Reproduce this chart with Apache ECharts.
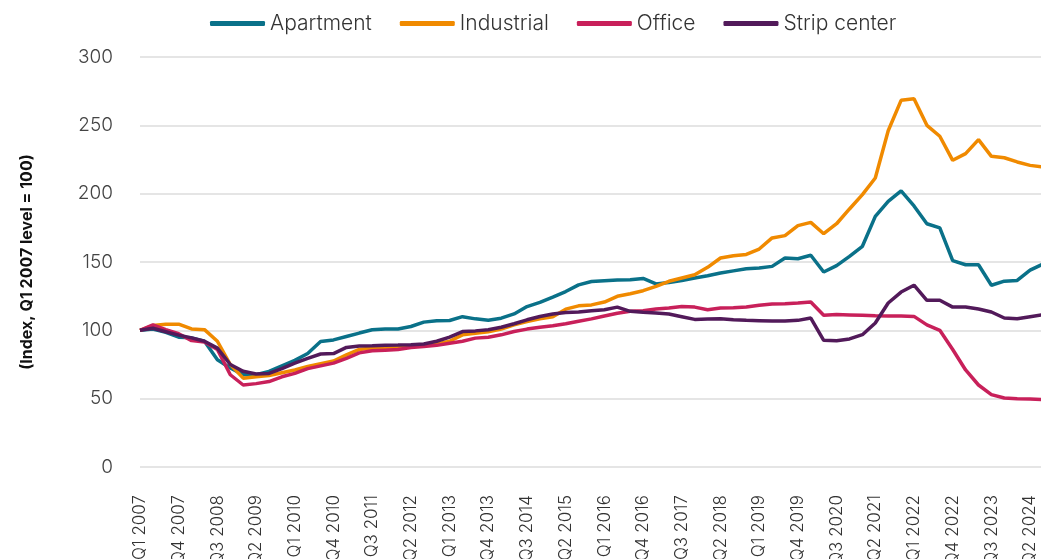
<!DOCTYPE html>
<html>
<head>
<meta charset="utf-8">
<script src="https://cdn.jsdelivr.net/npm/echarts@6/dist/echarts.min.js"></script>
<style>
  html, body { margin: 0; padding: 0; background: #fff; }
  #chart { width: 1041px; height: 559px; }
</style>
</head>
<body>
<div id="chart"></div>
<script>
const seriesNames = ["Apartment", "Industrial", "Office", "Strip center"];
const colors = ["#0a7189", "#f08a00", "#c8205a", "#521a5a"];

// quarterly, Q1 2007 .. Q3 2024
const quarters = [];
for (let y = 2007; y <= 2024; y++) {
  for (let q = 1; q <= 4; q++) {
    if (y === 2024 && q > 3) break;
    quarters.push("Q" + q + " " + y);
  }
}

const apartment = [
  100, 101, 98.5, 95, 94.5, 92, 78.5, 72.5, 67.5, 67.5,
  70, 74, 78, 83, 91.8, 93, 95.5, 98, 100.4, 101,
  101, 102.8, 106, 107, 107.2, 110, 108.4, 107.4, 108.9, 112,
  117.4, 120.4, 124.3, 128.4, 133.3, 135.7, 136.3, 136.8, 137, 138,
  134, 135, 136.5, 138.3, 140, 142, 143.5, 145, 145.6, 146.8,
  152.9, 152.4, 154.9, 142.7, 147.3, 154.1, 161.5, 183.4, 194.4, 202,
  191, 178, 175, 151, 148, 148, 133, 136, 136.5, 144,
  148.5
];
const industrial = [
  100, 103.5, 104.5, 104.5, 101, 100.5, 92, 75, 65, 66,
  67, 69, 71, 73.5, 75.5, 77.5, 82, 86, 87, 87.4,
  87.5, 88.2, 88.7, 90, 92, 96.7, 97.9, 99, 101, 104,
  106.5, 108.5, 110, 115.5, 117.9, 118.6, 120.7, 124.9, 126.8, 129,
  132.2, 135.9, 138.3, 140.7, 146.1, 152.9, 154.5, 155.5, 159.5, 167.6,
  169.3, 176.6, 179, 170.7, 178, 188.8, 199.3, 211.5, 246, 268.3,
  269.5, 250, 242, 224.4, 229.3, 239.5, 227.3, 226.3, 223.2, 220.7,
  219.5
];
const office = [
  100, 104, 100.5, 97.5, 92.5, 91.5, 86, 67.5, 60, 61,
  62.5, 66, 68.5, 72, 74, 76, 79.5, 83.5, 85, 85.5,
  86, 87.4, 88.2, 89, 90.5, 92, 94.3, 95, 96.7, 99.1,
  100.9, 102.3, 103.3, 104.8, 106.7, 108.4, 110.5, 112.5, 113.9, 114.4,
  115.6, 116.3, 117.5, 117, 115.1, 116.3, 116.5, 117, 118.3, 119.3,
  119.5, 120, 120.7, 111, 111.5, 111.3, 111, 110.7, 110.5, 110.5,
  110.2, 104, 100, 86, 71, 60, 53, 50.5, 50, 49.7,
  49.3
];
const stripCenter = [
  100, 101.5, 99, 96.5, 94.5, 92, 87, 75, 70, 68,
  68.5, 72, 76, 79.5, 82.7, 83, 87.5, 88.5, 88.7, 89,
  89.2, 89.5, 90, 92, 95, 99.1, 99.6, 100.4, 102.3, 104.8,
  107.7, 110.1, 112, 113, 113.5, 114.3, 115.1, 117, 113.9, 113.2,
  112.7, 112, 110, 108, 108.3, 108.5, 107.8, 107.3, 107.1, 106.8,
  106.8, 107.3, 109, 92.7, 92.4, 93.7, 96.8, 105.4, 120, 128,
  133, 122, 122, 117, 117, 115.6, 113.4, 109, 108.5, 110,
  111.5
];

const allData = [apartment, industrial, office, stripCenter];
const font = "Inter, 'Noto Sans', sans-serif";

const chart = echarts.init(document.getElementById("chart"));

const option = {
  animation: false,
  color: colors,
  textStyle: { fontFamily: font },
  legend: {
    data: seriesNames,
    top: 8,
    left: 205,
    icon: "roundRect",
    itemWidth: 55,
    itemHeight: 5,
    itemGap: 28,
    textStyle: { fontSize: 21, fontWeight: 300, color: "#333", fontFamily: font }
  },
  grid: { left: 140, right: -2, top: 57, bottom: 92, containLabel: false, outerBoundsMode: "none" },
  xAxis: {
    type: "category",
    data: quarters,
    boundaryGap: false,
    axisLine: { show: false },
    axisTick: { show: false },
    splitLine: { show: false },
    axisLabel: {
      interval: 2,
      rotate: 90,
      margin: 28,
      fontSize: 17,
      fontWeight: 300,
      color: "#333",
      fontFamily: font
    }
  },
  yAxis: {
    type: "value",
    min: 0,
    max: 300,
    interval: 50,
    name: "(Index, Q1 2007 level = 100)",
    nameLocation: "middle",
    nameRotate: 90,
    nameGap: 105,
    nameTextStyle: { fontSize: 16, fontWeight: "bold", color: "#111", fontFamily: font },
    axisLine: { show: false },
    axisTick: { show: false },
    axisLabel: { fontSize: 19, fontWeight: 300, color: "#444", margin: 27, fontFamily: font },
    splitLine: { lineStyle: { color: "#dcdcdc", width: 1.5 } }
  },
  series: seriesNames.map((name, k) => ({
    name: name,
    type: "line",
    data: allData[k],
    symbol: "none",
    lineStyle: { width: 3.5, color: colors[k] },
    itemStyle: { color: colors[k] }
  }))
};

chart.setOption(option);
</script>
</body>
</html>
